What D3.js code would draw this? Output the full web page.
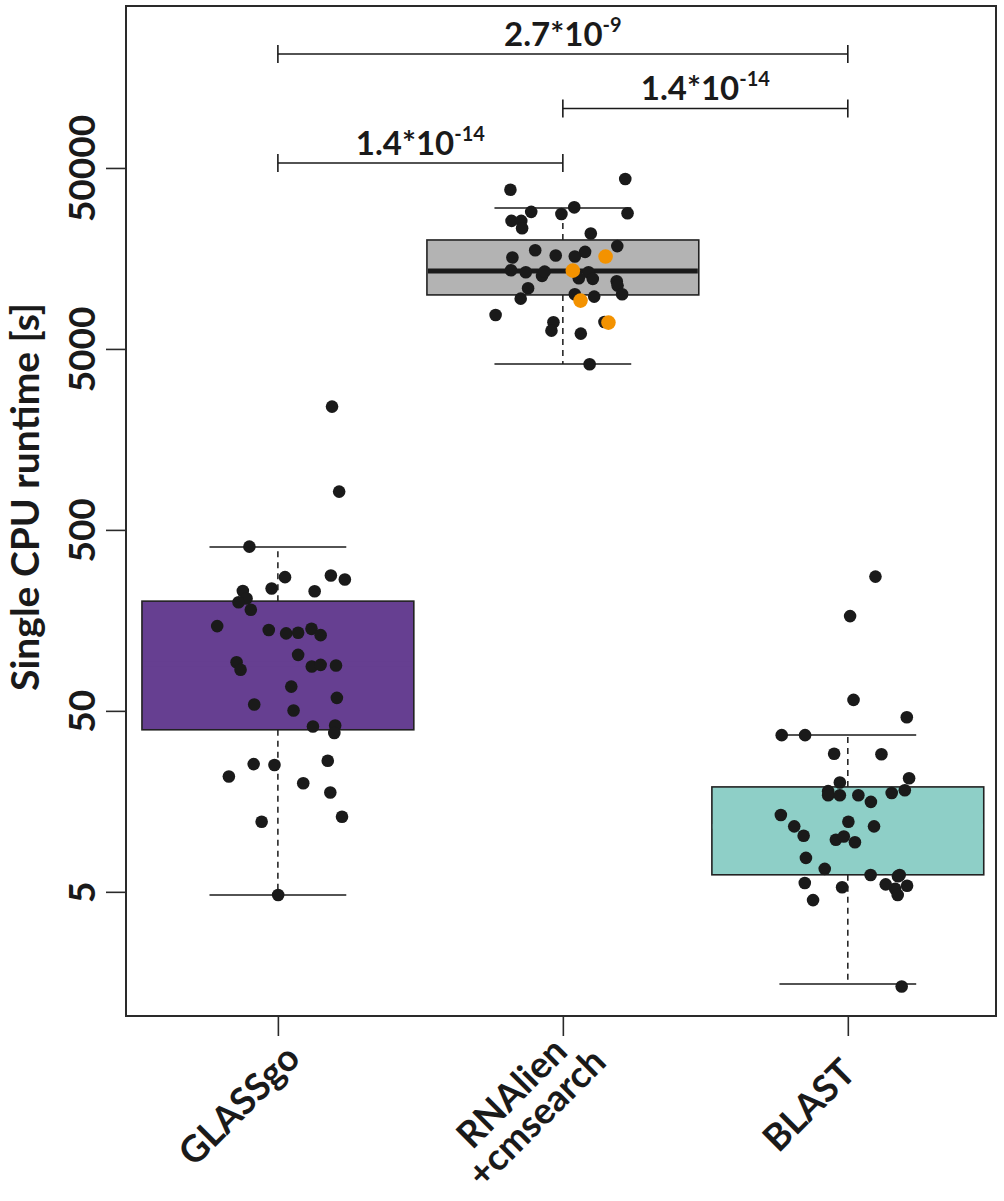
<!DOCTYPE html>
<html>
<head>
<meta charset="utf-8">
<script src="https://cdn.jsdelivr.net/npm/d3@7"></script>
<style>
  html, body { margin: 0; padding: 0; background: #fff; }
  svg text { font-family: Lato, "Open Sans", sans-serif; font-weight: 700; fill: #1a1a1a; }
</style>
</head>
<body>
<svg id="chart" width="1004" height="1201"></svg>
<script>
// ---------------- data ----------------
const categoryLabels = [["GLASSgo"], ["RNAlien", "+cmsearch"], ["BLAST"]];
const yTicks = [5, 50, 500, 5000, 50000];

// box statistics (seconds)
const whiskerLow  = [4.8,   4130,  1.55];
const quartile1   = [39.3,  9940,  6.21];
const medians     = [91,    13490, 11.5];
const quartile3   = [202,   20000, 19.0];
const whiskerHigh = [402,   30060, 36.8];

// jittered observations: [horizontal jitter (category units), runtime in s]
const glassgoPoints = [
  [0.19, 2400], [0.215, 814], [-0.10, 404], [0.025, 274], [0.186, 280], [0.235, 266],
  [-0.022, 237], [-0.123, 230], [0.129, 229], [-0.11, 209], [-0.138, 199], [-0.095, 181],
  [-0.213, 147], [-0.032, 140], [0.029, 134], [0.071, 135], [0.118, 142], [0.15, 131],
  [0.071, 102], [-0.145, 92.9], [-0.131, 84.3], [0.119, 87.9], [0.15, 89.8], [0.204, 89],
  [0.047, 68.1], [0.207, 59], [-0.083, 54.2], [0.055, 50.2], [0.123, 41], [0.201, 41.5],
  [0.198, 37.7], [-0.085, 25.4], [-0.012, 25.1], [0.175, 26.5], [-0.172, 21.7], [0.089, 19.9],
  [0.184, 17.7], [0.225, 13.0], [-0.057, 12.2], [0.001, 4.8]
];
const rnalienPoints = [
  [0.219, 43450], [-0.184, 37900], [0.04, 30300], [-0.111, 28600], [-0.005, 27850], [0.227, 28100],
  [-0.18, 25500], [-0.146, 25500], [-0.143, 23200], [0.098, 21700], [-0.097, 17550], [-0.025, 16400],
  [0.078, 17200], [0.191, 18500], [-0.177, 16000], [0.042, 16200], [-0.182, 13600], [-0.13, 13270],
  [-0.073, 12660], [-0.064, 13370], [0.09, 13270], [0.105, 12190], [0.056, 12290], [0.189, 11830],
  [0.192, 11190], [0.208, 10030], [-0.122, 10820], [-0.148, 9480], [0.042, 10030], [0.11, 9730],
  [-0.236, 7700], [-0.033, 7020], [-0.04, 6310], [0.063, 6075], [0.146, 7050], [0.094, 4115]
];
const rnalienHighlight = [
  [0.15, 16200], [0.035, 13540], [0.062, 9245], [0.16, 6990]
];
const blastPoints = [
  [0.097, 276], [0.008, 167], [0.02, 57.5], [0.207, 46.1], [-0.232, 36.7], [-0.15, 36.7],
  [-0.048, 29.0], [0.118, 28.8], [0.215, 21.2], [-0.028, 20.1], [-0.069, 18.0], [-0.069, 17.1],
  [-0.028, 17.1], [0.037, 17.1], [0.081, 15.7], [0.154, 17.6], [0.2, 18.2], [-0.235, 13.3],
  [-0.188, 11.5], [-0.155, 10.2], [0.002, 12.2], [0.092, 11.5], [-0.042, 9.7], [-0.014, 10.1],
  [0.025, 9.4], [-0.147, 7.7], [-0.081, 6.7], [0.08, 6.2], [0.176, 6.1], [0.182, 6.2],
  [0.166, 5.2], [-0.151, 5.6], [-0.02, 5.3], [0.133, 5.5], [0.208, 5.4], [0.175, 4.8],
  [-0.122, 4.5], [0.189, 1.5]
];

// pairwise tests
const testPairs = [[0, 1], [1, 2], [0, 2]];
const pMantissa = ["1.4*10", "1.4*10", "2.7*10"];
const pExponent = ["-14", "-14", "-9"];

// ---------------- layout ----------------
const svg = d3.select("#chart");
const plot = { left: 126, right: 996, top: 6, bottom: 1016 };

const x = d3.scaleLinear().domain([0.467, 3.52]).range([plot.left, plot.right]);
const y = d3.scaleLog().domain([1.03, 392600]).range([plot.bottom, plot.top]);

const boxFill = ["#663f91", "#b3b3b3", "#8ecfc7"];
const medianColor = ["#663f91", "#1a1a1a", "#8ecfc7"];
const boxHalf = 0.477;
const capHalf = 0.24;
const ink = "#1a1a1a";

const groups = categoryLabels.map((_, i) => i);

// whiskers (dashed) and caps
const g = svg.append("g");
groups.forEach(i => {
  const cx = x(i + 1);
  g.append("line").attr("x1", cx).attr("x2", cx)
    .attr("y1", y(quartile3[i])).attr("y2", y(whiskerHigh[i]))
    .attr("stroke", ink).attr("stroke-width", 1.5).attr("stroke-dasharray", "6,5");
  g.append("line").attr("x1", cx).attr("x2", cx)
    .attr("y1", y(quartile1[i])).attr("y2", y(whiskerLow[i]))
    .attr("stroke", ink).attr("stroke-width", 1.5).attr("stroke-dasharray", "6,5");
  [whiskerHigh[i], whiskerLow[i]].forEach(v => {
    g.append("line").attr("x1", x(i + 1 - capHalf)).attr("x2", x(i + 1 + capHalf))
      .attr("y1", y(v)).attr("y2", y(v))
      .attr("stroke", ink).attr("stroke-width", 1.5);
  });
});

// boxes
g.selectAll("rect.box").data(groups).join("rect").attr("class", "box")
  .attr("x", i => x(i + 1 - boxHalf))
  .attr("width", i => x(i + 1 + boxHalf) - x(i + 1 - boxHalf))
  .attr("y", i => y(quartile3[i]))
  .attr("height", i => y(quartile1[i]) - y(quartile3[i]))
  .attr("fill", i => boxFill[i])
  .attr("stroke", "#222").attr("stroke-width", 1.6);

// medians
g.selectAll("line.median").data(groups).join("line").attr("class", "median")
  .attr("x1", i => x(i + 1 - boxHalf) + 1).attr("x2", i => x(i + 1 + boxHalf) - 1)
  .attr("y1", i => y(medians[i])).attr("y2", i => y(medians[i]))
  .attr("stroke", i => medianColor[i]).attr("stroke-width", 5);

// points
const pointSets = [
  { pts: glassgoPoints, idx: 0, color: ink, r: 6.3 },
  { pts: rnalienPoints, idx: 1, color: ink, r: 6.3 },
  { pts: blastPoints, idx: 2, color: ink, r: 6.3 },
  { pts: rnalienHighlight, idx: 1, color: "#f39200", r: 7.3 }
];
pointSets.forEach(s => {
  g.append("g").selectAll("circle").data(s.pts).join("circle")
    .attr("cx", d => x(s.idx + 1 + d[0]))
    .attr("cy", d => y(d[1]))
    .attr("r", s.r)
    .attr("fill", s.color);
});

// frame
svg.append("rect")
  .attr("x", plot.left).attr("y", plot.top)
  .attr("width", plot.right - plot.left).attr("height", plot.bottom - plot.top)
  .attr("fill", "none").attr("stroke", "#2a2a2a").attr("stroke-width", 2);

// y axis
const yAxis = svg.append("g").attr("transform", `translate(${plot.left},0)`)
  .call(d3.axisLeft(y).tickValues(yTicks).tickSize(20).tickFormat(d3.format("d")));
yAxis.select(".domain").remove();
yAxis.selectAll(".tick line").attr("stroke", "#2a2a2a").attr("stroke-width", 1.6);
yAxis.selectAll(".tick text")
  .attr("x", null).attr("dy", null)
  .attr("text-anchor", "middle")
  .attr("transform", "translate(-31,0) rotate(-90)")
  .style("font-size", "37px").style("font-family", "Lato, sans-serif").style("font-weight", 700)
  .attr("fill", ink);

svg.append("text")
  .attr("transform", "translate(39,497) rotate(-90)")
  .attr("text-anchor", "middle")
  .style("font-size", "39px")
  .text("Single CPU runtime [s]");

// x axis ticks
const xAxis = svg.append("g").attr("transform", `translate(0,${plot.bottom})`)
  .call(d3.axisBottom(x).tickValues(groups.map(i => i + 1)).tickSize(20).tickFormat(""));
xAxis.select(".domain").remove();
xAxis.selectAll(".tick line").attr("stroke", "#2a2a2a").attr("stroke-width", 1.6);

// x labels, rotated 45 degrees
groups.forEach(i => {
  const lines = categoryLabels[i];
  const lg = svg.append("g")
    .attr("transform", `translate(${x(i + 1) - 40},1104) rotate(-45)`);
  const lh = 35;
  lines.forEach((t, k) => {
    lg.append("text")
      .attr("x", 0)
      .attr("y", (k - (lines.length - 1) / 2) * lh)
      .attr("dominant-baseline", "central")
      .attr("text-anchor", "middle")
      .style("font-size", "37px")
      .text(t);
  });
});

// significance brackets
const bracketBase = 53300;
const bracketLevel = [1, 2, 4];
testPairs.forEach((p, k) => {
  const yy = y(bracketBase * bracketLevel[k]);
  const x1 = x(p[0] + 1), x2 = x(p[1] + 1);
  const bg = svg.append("g");
  bg.append("line").attr("x1", x1).attr("x2", x2).attr("y1", yy).attr("y2", yy)
    .attr("stroke", ink).attr("stroke-width", 1.6);
  [x1, x2].forEach(xx => bg.append("line").attr("x1", xx).attr("x2", xx)
    .attr("y1", yy - 9).attr("y2", yy + 9).attr("stroke", ink).attr("stroke-width", 1.6));
  const t = bg.append("text")
    .attr("x", (x1 + x2) / 2).attr("y", yy - 8)
    .attr("text-anchor", "middle")
    .style("font-size", "33px");
  t.append("tspan").text(pMantissa[k]);
  t.append("tspan").attr("dy", -14).style("font-size", "20px").text(pExponent[k]);
});
</script>
</body>
</html>
